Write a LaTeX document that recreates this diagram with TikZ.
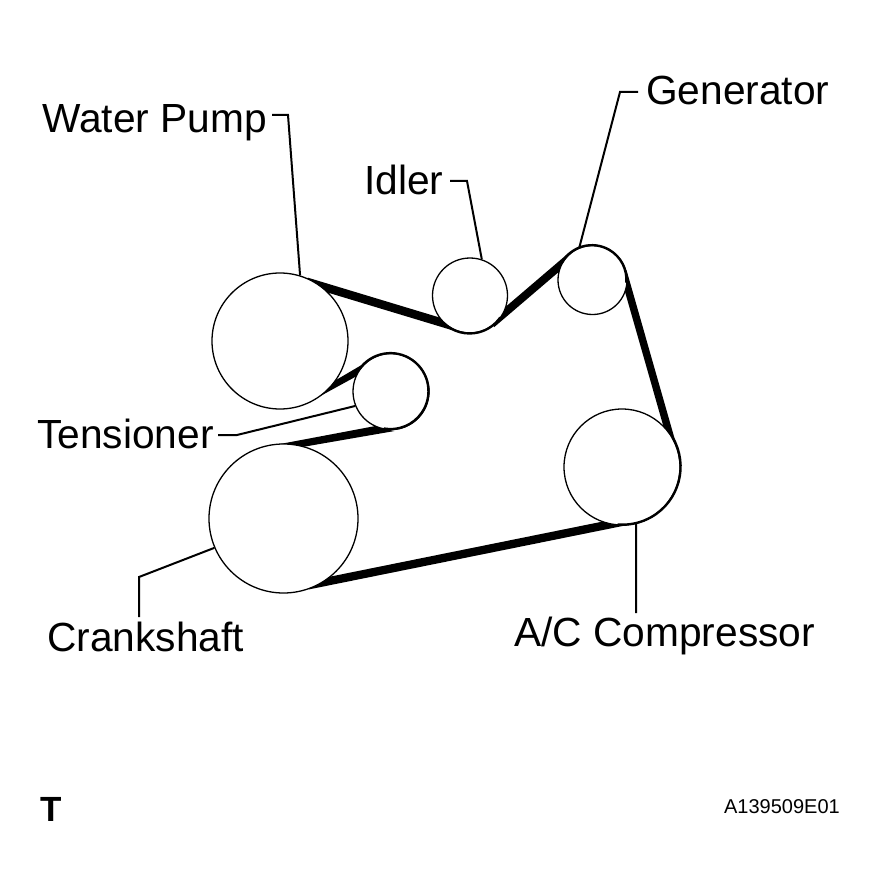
\documentclass[tikz,border=0pt]{standalone}
\usepackage{fontspec}
\setmainfont{Liberation Sans}
\tikzset{
  x=1pt,y=-1pt,
  pulley/.style={circle,draw,fill=white,inner sep=0pt,line width=1.3pt},
  ghost/.style={circle,inner sep=0pt},
  belt/.style={line width=#1,shorten <=-14pt,shorten >=-14pt},
  beltarc/.style={line width=2.4pt},
  leader/.style={line width=2pt},
  lab/.style={inner sep=0pt,font=\fontsize{40.7}{41}\selectfont,anchor=base west},
}
\begin{document}
\begin{tikzpicture}
\useasboundingbox (0,0) rectangle (876,896);
% named pulley positions, drawn after the belts
\path (280,341) coordinate (cwp) (470,295.5) coordinate (cid) (592.5,280) coordinate (cgen)
      (622,467) coordinate (cac) (391,391.5) coordinate (cten) (283.5,518.5) coordinate (ccr);
\node[ghost,minimum size=136pt] (wp0) at (cwp) {};
\node[ghost,minimum size=75pt] (id0) at (cid) {};
\node[ghost,minimum size=69pt] (gen0) at (cgen) {};
\node[ghost,minimum size=116pt] (ac0) at (cac) {};
\node[ghost,minimum size=76pt] (ten0) at (cten) {};
\node[ghost,minimum size=149pt] (cr0) at (ccr) {};
% belts
\draw[belt=8.5pt] (wp0.54) -- (id0.228);
\draw[belt=8pt] (id0.-31) -- (gen0.153);
\draw[belt=7.4pt] (gen0.-8) -- (ac0.36);
\draw[belt=8.3pt] (ac0.-101.8) -- (cr0.-59);
\fill (cr0.92) -- (ten0.245) -- ([yshift=-1.5pt]ten0.275) -- (cr0.74) -- cycle;
\fill (wp0.-54) -- (ten0.157) -- (ten0.129) -- (wp0.-35) -- cycle;
% pulleys
\node[pulley,minimum size=136pt] (wp) at (cwp) {};
\node[pulley,minimum size=75pt] (id) at (cid) {};
\node[pulley,minimum size=69pt] (gen) at (cgen) {};
\node[pulley,minimum size=116pt] (ac) at (cac) {};
\node[pulley,minimum size=76pt] (ten) at (cten) {};
\node[pulley,minimum size=149pt] (cr) at (ccr) {};
% belt wrap on pulleys
\draw[beltarc] (id.-135) arc[start angle=-135,end angle=-35,radius=37.5pt];
\draw[beltarc] (gen.150) arc[start angle=150,end angle=-5,radius=34.5pt];
\draw[beltarc] (ten.145) arc[start angle=145,end angle=-100,radius=38pt];
\draw[beltarc] (ac.30) arc[start angle=30,end angle=-95,radius=58pt];
% labels
\node[lab] (lwp) at (42,133) {Water Pump};
\node[lab] (lid) at (364,194) {Idler};
\node[lab] (lgen) at (646,105) {Generator};
\node[lab] (lten) at (37,448) {Tensioner};
\node[lab] (lcr) at (47,651) {Crankshaft};
\node[lab] (lac) at (514,646) {A/C Compressor};
\node[inner sep=0pt,anchor=base west,font=\fontsize{35}{35}\selectfont\bfseries] (lt) at (40,821) {T};
\node[inner sep=0pt,anchor=base east,font=\fontsize{20}{20}\selectfont] (lcode) at (840,813) {A139509E01};
% leaders
\coordinate (a1) at (288,115);
\coordinate (a2) at (467,181);
\coordinate (a3) at (620,92);
\coordinate (a4) at (237,435);
\coordinate (a5) at (139,577);
\coordinate (e1) at (272,115);
\coordinate (e2) at (450,181);
\coordinate (e3) at (638,92);
\coordinate (e4) at (218,435);
\coordinate (e5) at (139,617);
\coordinate (e6) at (636,613);
\draw[leader] (e1) -- (a1) -- (wp.73);
\draw[leader] (e2) -- (a2) -- (id.72);
\draw[leader] (e3) -- (a3) -- (gen.112);
\draw[leader] (e4) -- (a4) -- (ten.202);
\draw[leader] (e5) -- (a5) -- (cr.-157);
\draw[leader] (ac.-76) -- (e6);
\end{tikzpicture}
\end{document}
